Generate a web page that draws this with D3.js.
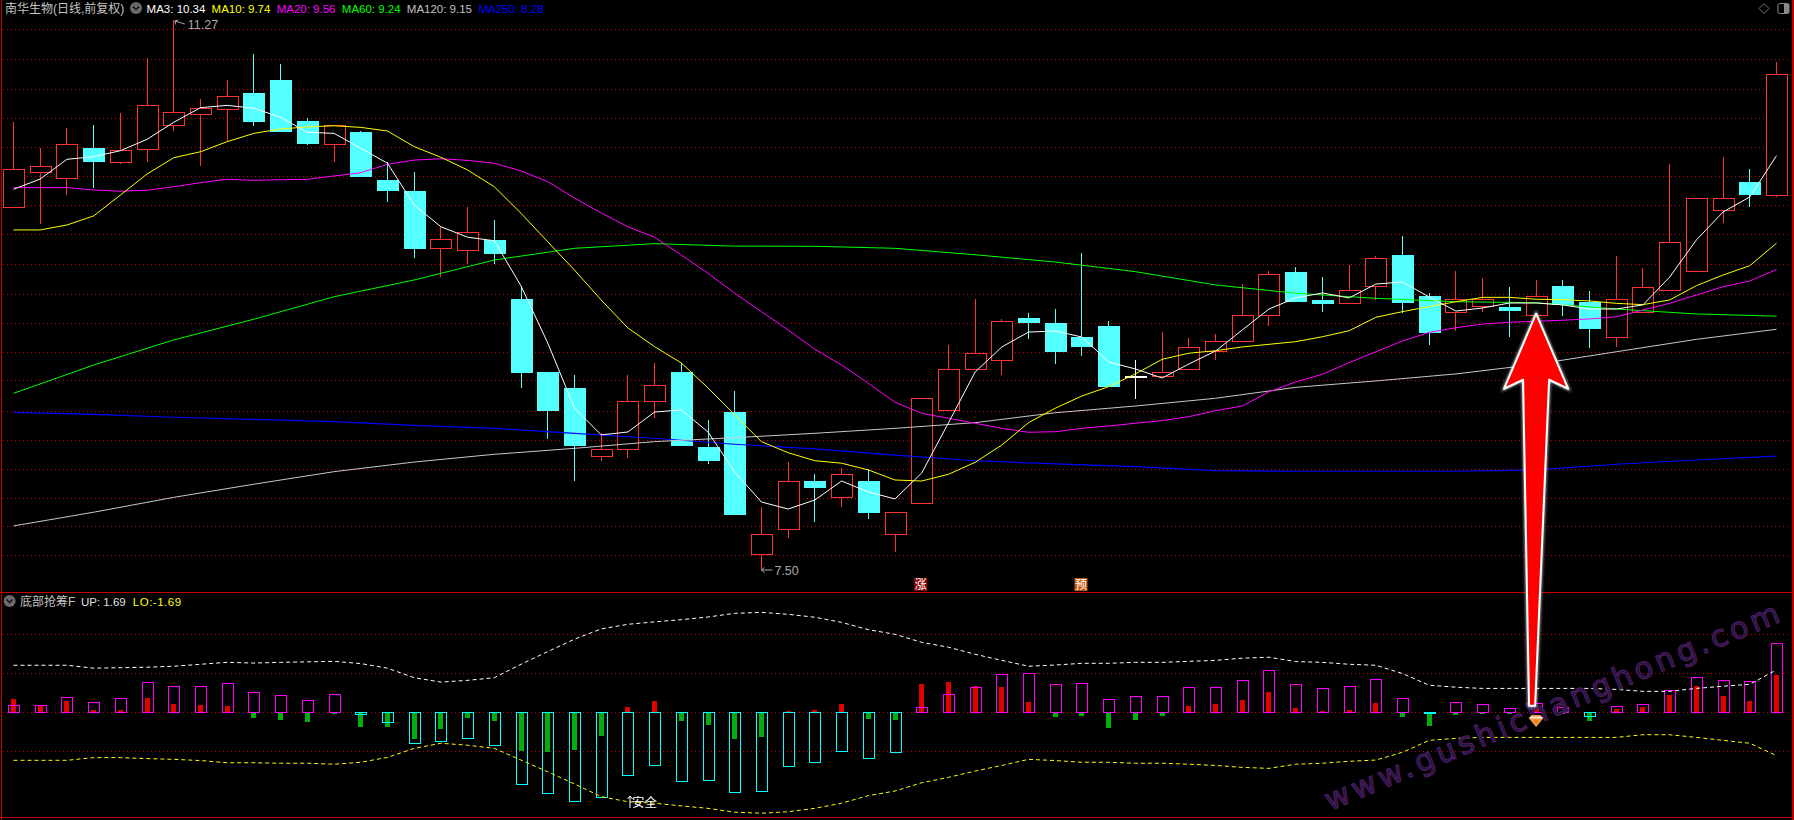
<!DOCTYPE html>
<html><head><meta charset="utf-8">
<script src="https://cdn.jsdelivr.net/npm/d3@7/dist/d3.min.js"></script>
<style>
html,body{margin:0;padding:0;background:#000;overflow:hidden}
svg{display:block}
text{font-family:"Liberation Sans","Noto Sans CJK SC",sans-serif}
</style></head><body><svg id="c" width="1794" height="820"></svg>
<script>
const opens=[9.99,10.23,10.19,10.39,10.30,10.39,10.55,10.63,10.66,10.77,10.86,10.58,10.42,10.50,10.17,10.10,9.71,9.70,9.76,9.36,8.86,8.75,8.28,8.33,8.66,8.86,8.34,8.58,7.61,7.78,8.11,8.00,8.11,7.75,7.96,8.60,8.88,8.94,9.23,9.19,9.10,9.17,8.83,8.83,8.88,9.00,9.07,9.25,9.54,9.35,9.33,9.45,9.66,9.38,9.27,9.31,9.30,9.25,9.45,9.34,9.10,9.27,9.42,9.55,9.97,10.16,10.07];
const closes=[10.25,10.27,10.42,10.30,10.38,10.69,10.64,10.67,10.75,10.58,10.51,10.43,10.55,10.20,10.10,9.71,9.77,9.82,9.67,8.86,8.60,8.36,8.33,8.66,8.77,8.36,8.25,7.88,7.75,8.11,8.07,8.16,7.90,7.90,8.68,8.88,8.99,9.21,9.20,9.00,9.04,8.76,8.83,8.86,9.03,9.07,9.25,9.53,9.34,9.33,9.42,9.64,9.34,9.13,9.36,9.36,9.28,9.38,9.33,9.16,9.36,9.44,9.75,10.05,10.05,10.08,10.90];
const highs=[10.57,10.39,10.53,10.55,10.63,11.01,11.27,10.73,10.86,11.04,10.97,10.60,10.55,10.51,10.30,10.23,9.85,9.99,9.90,9.45,8.86,8.84,8.44,8.84,8.92,8.92,8.53,8.73,7.93,8.24,8.16,8.20,8.19,7.90,8.68,9.04,9.36,9.22,9.26,9.29,9.67,9.21,8.94,9.13,9.09,9.12,9.46,9.55,9.58,9.51,9.59,9.65,9.79,9.40,9.55,9.50,9.44,9.49,9.49,9.41,9.65,9.57,10.28,10.05,10.33,10.25,10.98];
const lows=[9.99,9.87,10.07,10.12,10.28,10.30,10.51,10.27,10.44,10.54,10.51,10.41,10.30,10.20,10.02,9.64,9.51,9.60,9.60,8.75,8.40,8.11,8.25,8.27,8.54,8.36,8.23,7.88,7.50,7.72,7.83,7.93,7.85,7.62,7.96,8.60,8.88,8.84,9.08,8.91,8.97,8.76,8.67,8.82,8.88,8.94,9.07,9.17,9.34,9.27,9.32,9.35,9.26,9.04,9.14,9.27,9.10,9.25,9.24,9.02,9.03,9.27,9.42,9.55,9.88,9.99,10.06];
const ma3=[10.11,10.18,10.315,10.333,10.374,10.452,10.569,10.669,10.685,10.665,10.603,10.50,10.493,10.391,10.288,10.002,9.853,9.781,9.757,9.447,9.056,8.611,8.426,8.446,8.583,8.597,8.446,8.172,7.966,7.918,7.98,8.11,8.035,7.987,8.165,8.508,8.857,9.029,9.131,9.138,9.097,8.926,8.878,8.816,8.912,9.001,9.145,9.289,9.365,9.399,9.365,9.46,9.474,9.371,9.275,9.296,9.33,9.33,9.317,9.289,9.289,9.317,9.508,9.762,9.954,10.057,10.34];
const ma10=[9.831,9.831,9.865,9.927,10.07,10.214,10.326,10.367,10.436,10.493,10.523,10.537,10.545,10.534,10.509,10.402,10.329,10.242,10.127,9.945,9.75,9.556,9.351,9.159,9.031,8.919,8.748,8.563,8.38,8.304,8.249,8.232,8.186,8.117,8.11,8.156,8.238,8.357,8.51,8.609,8.693,8.757,8.844,8.944,8.986,9.003,9.029,9.047,9.065,9.099,9.14,9.232,9.271,9.305,9.339,9.369,9.369,9.356,9.353,9.344,9.328,9.319,9.351,9.449,9.522,9.586,9.74];
const ma20=[10.121,10.121,10.121,10.105,10.096,10.103,10.127,10.155,10.178,10.171,10.175,10.178,10.201,10.223,10.281,10.31,10.319,10.308,10.288,10.235,10.162,10.05,9.947,9.853,9.781,9.659,9.534,9.397,9.271,9.145,9.013,8.905,8.78,8.65,8.574,8.54,8.506,8.471,8.444,8.448,8.471,8.487,8.506,8.524,8.551,8.592,8.624,8.722,8.789,8.842,8.921,8.996,9.07,9.129,9.161,9.186,9.198,9.205,9.212,9.221,9.236,9.282,9.328,9.385,9.442,9.481,9.56];
const slowIdx=[0,3,6,9,12,15,18,21,24,27,30,33,36,39,42,45,48,51,54,57,60,63,66];
const ma60=[8.711,8.905,9.077,9.219,9.373,9.488,9.625,9.705,9.737,9.72,9.719,9.705,9.661,9.611,9.545,9.454,9.397,9.362,9.339,9.332,9.289,9.255,9.24];
const ma120=[7.802,7.896,7.998,8.088,8.174,8.24,8.293,8.334,8.38,8.407,8.437,8.471,8.51,8.578,8.624,8.677,8.752,8.796,8.844,8.91,8.996,9.081,9.15];
const ma250=[8.581,8.567,8.547,8.533,8.517,8.492,8.471,8.437,8.403,8.362,8.33,8.288,8.249,8.227,8.208,8.181,8.177,8.177,8.177,8.186,8.225,8.254,8.28];
const outerBars=[.29,.29,.62,.41,.57,1.23,1.07,1.07,1.19,.82,.70,.49,.74,-.10,-.42,-1.29,-1.20,-1.08,-1.37,-2.97,-3.34,-3.67,-3.50,-2.60,-2.19,-2.85,-2.80,-3.30,-3.26,-2.23,-2.07,-1.61,-1.90,-1.66,.21,.74,1.03,1.56,1.60,1.15,1.19,.53,.66,.66,1.03,1.03,1.31,1.72,1.15,.98,1.07,1.35,.57,-.05,.41,.33,.16,.37,.21,-.18,.25,.33,.90,1.44,1.31,1.27,2.83];
const innerBars=[.55,.27,.47,.10,.10,.59,.34,.30,.26,-.23,-.31,-.40,-.07,-.60,-.60,-1.09,-.68,-.23,-.36,-1.59,-1.63,-1.55,-.97,.22,.47,-.36,-.52,-1.09,-1.01,.05,.10,.34,-.27,-.31,1.16,1.24,1.08,1.04,.42,-.19,-.15,-.64,-.31,-.15,.26,.34,.51,.83,.18,.05,.10,.38,-.19,-.56,-.11,-.07,-.07,.16,-.07,-.36,.14,.22,.71,1.08,.67,.47,1.53];
const upBand=[1.93,1.93,1.93,1.81,1.83,1.85,1.89,1.97,2.05,2.02,2.05,2.07,2.09,2.00,1.81,1.42,1.24,1.31,1.42,1.97,2.49,3.00,3.42,3.61,3.71,3.80,3.91,4.06,4.10,4.02,3.90,3.69,3.39,3.20,2.87,2.67,2.38,2.13,1.89,1.94,2.01,2.01,2.05,2.05,2.09,2.13,2.22,2.26,2.08,2.05,1.97,1.93,1.59,1.11,1.03,.98,.98,.98,.98,.98,.94,.86,.86,.98,1.07,1.15,1.74];
const loBand=[-1.97,-1.97,-1.97,-1.86,-1.86,-1.90,-1.93,-1.98,-2.07,-2.07,-2.09,-2.09,-2.13,-2.05,-1.85,-1.48,-1.27,-1.35,-1.48,-1.96,-2.44,-2.94,-3.46,-3.67,-3.73,-3.84,-3.94,-4.10,-4.14,-4.08,-3.94,-3.73,-3.42,-3.23,-2.89,-2.67,-2.41,-2.18,-1.93,-1.98,-2.05,-2.05,-2.09,-2.09,-2.13,-2.18,-2.26,-2.30,-2.13,-2.09,-2.01,-1.96,-1.64,-1.15,-1.07,-1.03,-1.03,-1.03,-1.03,-1.03,-1.03,-.92,-.92,-1.03,-1.15,-1.27,-1.78];
const priceGrid=[11.205,11.005,10.80,10.60,10.40,10.20,10.00,9.80,9.595,9.395,9.195,8.995,8.80,8.59,8.39,8.19,7.995,7.80,7.60];
const indGrid=[3.2,1.6,0,-1.6];
const legend=[["MA3: 10.34","#ffffff",146.6],["MA10: 9.74","#ffff00",211.6],["MA20: 9.56","#ff00ff",276.7],["MA60: 9.24","#00ff00",341.8],["MA120: 9.15","#c0c0c0",406.8],["MA250: 8.28","#0000ff",478.4]];
const title="南华生物(日线,前复权)";
const subName="底部抢筹F", subUp="UP: 1.69", subLo="LO:-1.69";

const n=opens.length, idx=d3.range(n);
const x=d3.scalePoint().domain(idx).range([13.5,1776.5]);
const y=d3.scaleLinear().domain([11.27,7.50]).range([20,570]);
const y2=d3.scaleLinear().domain([3.2,-1.6]).range([634.3,751.3]);
const svg=d3.select("#c");
const RED="#ff3232",CY="#54ffff",BORDER="#c00000";
const snap=v=>Math.round(v)+.5;

// grid
[[priceGrid,y],[indGrid,y2]].forEach(([vals,s])=>{
 svg.append("g").selectAll("line").data(vals).join("line")
  .attr("x1",3).attr("x2",1790).attr("y1",d=>snap(s(d))).attr("y2",d=>snap(s(d)))
  .attr("stroke","#c00000").attr("stroke-dasharray","1 3").attr("shape-rendering","crispEdges");
});

// candles
const col=i=>closes[i]>opens[i]?RED:closes[i]<opens[i]?CY:"#ffffff";
const g=svg.append("g").attr("shape-rendering","crispEdges");
g.selectAll("line.hi").data(idx).join("line").attr("class","hi")
 .attr("x1",i=>x(i)).attr("x2",i=>x(i)).attr("y1",i=>y(highs[i])).attr("y2",i=>y(Math.max(opens[i],closes[i])))
 .attr("stroke",col);
g.selectAll("line.lo").data(idx).join("line").attr("class","lo")
 .attr("x1",i=>x(i)).attr("x2",i=>x(i)).attr("y1",i=>y(Math.min(opens[i],closes[i]))).attr("y2",i=>y(lows[i]))
 .attr("stroke",col);
g.selectAll("rect").data(idx).join("rect")
 .attr("x",i=>snap(x(i)-10.5)).attr("width",20.5)
 .attr("y",i=>snap(y(Math.max(opens[i],closes[i]))))
 .attr("height",i=>Math.max(.5,Math.abs(y(opens[i])-y(closes[i]))))
 .attr("fill",i=>closes[i]>opens[i]?"#000":col(i))
 .attr("stroke",i=>col(i));

// moving averages
const line=d3.line().x(d=>x(d[0])).y(d=>y(d[1]));
const series=[[slowIdx,ma250,"#0000ff",1.2],[slowIdx,ma120,"#c8c8c8",1],[slowIdx,ma60,"#00ff00",1],[idx,ma20,"#ff00ff",1],[idx,ma10,"#ffff00",1],[idx,ma3,"#ffffff",1]];
series.forEach(([ix,v,c,w])=>svg.append("path").attr("d",line(ix.map((k,j)=>[k,v[j]]))).attr("fill","none").attr("stroke",c).attr("stroke-width",w));

// extremes
const hiI=highs.indexOf(d3.max(highs)), loI=lows.indexOf(d3.min(lows));
svg.append("path").attr("d",`M${x(hiI)+1},${y(11.27)+1}l10,3M${x(hiI)+1},${y(11.27)+1}l3.5,-1M${x(hiI)+1},${y(11.27)+1}l1,3.5`).attr("stroke","#a8a8a8").attr("fill","none");
svg.append("text").text("11.27").attr("x",x(hiI)+14).attr("y",y(11.27)+9).attr("fill","#a8a8a8").attr("font-size",12.5);
svg.append("path").attr("d",`M${x(loI)},${y(7.5)}h11M${x(loI)},${y(7.5)}l3,-2.5M${x(loI)},${y(7.5)}l3,2.5`).attr("stroke","#a8a8a8").attr("fill","none");
svg.append("text").text("7.50").attr("x",x(loI)+13).attr("y",y(7.5)+5).attr("fill","#a8a8a8").attr("font-size",12.5);

// signal tags
[[34,"涨","#8a0808"],[40,"预","#c25a12"]].forEach(([i,t,c])=>{
 svg.append("rect").attr("x",x(i)-7.5).attr("y",578).attr("width",13).attr("height",13).attr("fill",c);
 svg.append("text").text(t).attr("x",x(i)-1).attr("y",589).attr("text-anchor","middle").attr("font-size",12).attr("fill","#fff");
});

// indicator panel
const bg=svg.append("g").attr("shape-rendering","crispEdges");
bg.selectAll("rect.i").data(idx).join("rect").attr("class","i")
 .attr("x",i=>x(i)-2.5).attr("width",5)
 .attr("y",i=>Math.min(y2(0),y2(innerBars[i]))).attr("height",i=>Math.abs(y2(innerBars[i])-y2(0)))
 .attr("fill",i=>innerBars[i]>0?"#e00000":"#00b010");
bg.selectAll("rect.o").data(idx).join("rect").attr("class","o")
 .attr("x",i=>snap(x(i)-5.5)).attr("width",10.5)
 .attr("y",i=>snap(Math.min(y2(0),y2(outerBars[i])))).attr("height",i=>Math.abs(y2(outerBars[i])-y2(0)))
 .attr("fill","none").attr("stroke",i=>outerBars[i]>0?"#ff00ff":"#00ffff");
const line2=d3.line().x((d,i)=>x(i)).y(d=>y2(d));
svg.append("path").attr("d",line2(upBand)).attr("fill","none").attr("stroke","#ffffff").attr("stroke-dasharray","4 3");
svg.append("path").attr("d",line2(loBand)).attr("fill","none").attr("stroke","#ffff00").attr("stroke-dasharray","4 3");

// safe label
svg.append("path").attr("d","M630,808V796M627.5,799L630,796L632.5,799").attr("stroke","#fff").attr("fill","none");
svg.append("text").text("安全").attr("x",632).attr("y",807).attr("fill","#fff").attr("font-size",12.5);

// frame
svg.append("g").attr("stroke",BORDER).attr("stroke-width",1.4).attr("shape-rendering","crispEdges").selectAll("line")
 .data([[1.5,0,1.5,820],[1793,0,1793,820],[0,592.5,1794,592.5],[0,817.5,1794,817.5]]).join("line")
 .attr("x1",d=>d[0]).attr("y1",d=>d[1]).attr("x2",d=>d[2]).attr("y2",d=>d[3]);

// header
function icon(cx,cy){
 svg.append("circle").attr("cx",cx).attr("cy",cy).attr("r",6).attr("fill","#6a6a6a");
 svg.append("path").attr("d",`M${cx-3},${cy-1.5}l3,3l3,-3`).attr("stroke","#111").attr("stroke-width",1.4).attr("fill","none");
}
svg.append("text").text(title).attr("x",5).attr("y",13).attr("fill","#c4c4c4").attr("font-size",12);
icon(136,8);
svg.selectAll("text.l").data(legend).join("text").attr("class","l").text(d=>d[0]).attr("x",d=>d[2]).attr("y",13).attr("fill",d=>d[1]).attr("font-size",11.5);
svg.append("path").attr("d","M1764,3.5l5,5l-5,5l-5,-5Z").attr("stroke","#777").attr("fill","none");
svg.append("rect").attr("x",1778).attr("y",3.5).attr("width",11).attr("height",10).attr("rx",1.5).attr("stroke","#888").attr("fill","none");
svg.append("rect").attr("x",1784).attr("y",4).attr("width",5).attr("height",9).attr("fill","#888");
icon(9.6,601);
svg.append("text").text(subName).attr("x",20).attr("y",605.5).attr("fill","#c4c4c4").attr("font-size",12);
svg.append("text").text(subUp).attr("x",81).attr("y",605.5).attr("fill","#e0e0e0").attr("font-size",11.5);
svg.append("text").text(subLo).attr("x",132.8).attr("y",605.5).attr("fill","#ffff00").attr("font-size",11.5).attr("letter-spacing",.5);

// watermark
svg.append("text").text("www.gushichanghong.com").attr("transform","translate(1330,811) rotate(-22.8)")
 .style("font-family","DejaVu Sans").attr("font-size",30).attr("textLength",490).attr("lengthAdjust","spacing")
 .attr("fill","#1a1640").attr("stroke","#4e1a5c").attr("stroke-width",1.2);

// diamond badge
const bx=x(57), by=721;
svg.append("path").attr("d",`M${bx-7.5},${by-3}L${bx-4},${by-6}H${bx+4}L${bx+7.5},${by-3}L${bx},${by+6}Z`).attr("fill","#f09a48");
svg.append("path").attr("d",`M${bx-6},${by-3.5}H${bx+6}`).attr("stroke","#fff0dc").attr("stroke-width",1.6);
svg.append("path").attr("d",`M${bx-3},${by-1}H${bx+3}L${bx},${by+4}Z`).attr("fill","#e8801e");

// big arrow
const ax=x(57), ay=y(9.38)+18;
const pts=[[0,0],[32,75],[13,66],[-1,392],[-7,392],[-13,66],[-32,75]];
const defs=svg.append("defs");
defs.append("filter").attr("id","gl").attr("x","-30%").attr("y","-10%").attr("width","160%").attr("height","120%").append("feGaussianBlur").attr("stdDeviation",1.6);
const ap=d3.line()(pts.map(p=>[ax+p[0],ay+p[1]]))+"Z";
svg.append("path").attr("d",ap).attr("fill","#fff").attr("stroke","#fff").attr("stroke-width",3).attr("filter","url(#gl)").attr("opacity",.7);
svg.append("path").attr("d",ap).attr("fill","#ff0000").attr("stroke","#fff").attr("stroke-width",2).attr("stroke-linejoin","round");
</script></body></html>
